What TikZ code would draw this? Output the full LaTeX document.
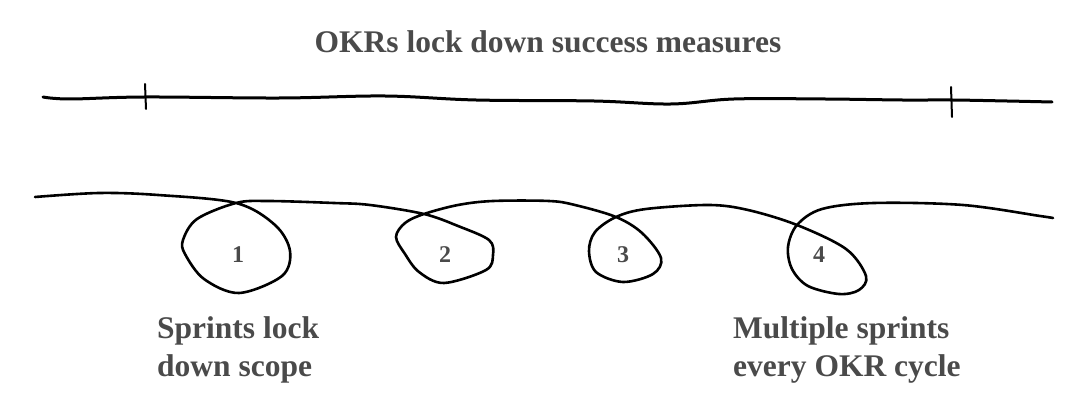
\documentclass[tikz,border=0pt]{standalone}
\usepackage{fontspec}
\setmainfont{Liberation Serif}
\usepackage{tikz}
\usetikzlibrary{positioning}
\definecolor{ink}{HTML}{4A4A4A}

\begin{document}
\begin{tikzpicture}[
  x=1pt, y=-1pt,
  lbl/.style={text=ink, font=\bfseries\fontsize{31.5}{38}\selectfont, inner sep=0pt, align=left},
  num/.style={text=ink, font=\bfseries\fontsize{24}{28}\selectfont, inner sep=0pt},
  pen/.style={line width=2.6pt, line cap=round, line join=round}
]
\useasboundingbox (0,0) rectangle (1089,403);
\node[lbl] (title) at (548,42) {OKRs lock down success measures};
% OKR cycle line with its two ticks
\draw[pen, line width=3pt] plot[smooth, tension=0.6] coordinates {(43,97) (70,99) (145,97) (280,98) (385,96) (476,100) (594,101) (671,104) (734,99) (825,99) (902,100) (952,100) (1007,101) (1052,102)};
\draw[pen, line width=2pt] (145,84) -- (146,109);
\draw[pen, line width=2pt] (951,87) -- (952,117);
% sprint loops
\draw[pen] plot[smooth, tension=0.55] coordinates {(35,197) (99,193) (158,195) (236,203) (275,225) (290,251) (282,276) (239,293) (204,279) (185,254) (183,240) (197,219) (236,203)
  (268,201) (334,203) (370,205) (424,214) (458,226) (489,240) (493,255) (486,270) (444,283) (419,272) (405,254) (396,237) (405,223) (424,214)
  (458,205) (493,201) (549,201) (575,205) (616,217) (642,233) (661,258) (653,274) (623,282) (596,272) (589,251) (595,232) (616,217)
  (646,209) (709,205) (748,210) (797,225) (846,249) (866,276) (859,290) (839,294) (808,286) (792,269) (788,247) (797,225)
  (822,209) (874,203) (963,205) (1040,216) (1053,218)};
\node[num] (s1) at (238,255) {1};
\node[num] (s2) at (445,255) {2};
\node[num] (s3) at (623,255) {3};
\node[num] (s4) at (819,255) {4};
\node[lbl, anchor=west] (scope) at (157,350) {Sprints lock\\down scope};
\node[lbl, anchor=west] (cycle) at (733,350) {Multiple sprints\\every OKR cycle};
\end{tikzpicture}
\end{document}
